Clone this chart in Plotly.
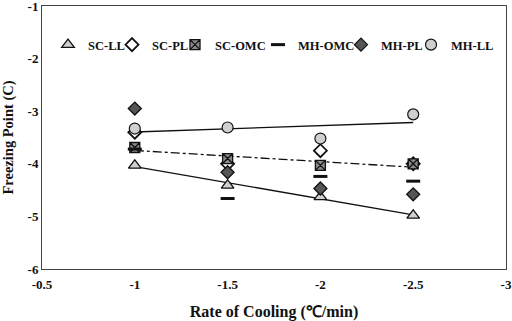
import numpy as np
import plotly.graph_objects as go

rates = [-1, -1.5, -2, -2.5]
sc_ll = [-4.03, -4.41, -4.63, -4.98]
sc_pl = [-3.40, -4.00, -3.75, -4.00]
sc_omc = [-3.69, -3.90, -4.03, -4.00]
mh_omc = [-3.72, -4.66, -4.24, -4.33]
mh_pl = [-2.95, -4.16, -4.47, -4.58]
mh_ll = [-3.33, -3.31, -3.52, -3.06]

x_ticks = [-0.5, -1, -1.5, -2, -2.5, -3]
y_ticks = [-1, -2, -3, -4, -5, -6]

FONT = "Liberation Serif"
INK = "#111111"

# name, values, symbol, size, outline width, fill colour, reference legend symbol x (px)
series = [
    ("SC-LL", sc_ll, "triangle-up", 11, 1.3, "#d0d0d0", 75),
    ("SC-PL", sc_pl, "diamond-open", 10, 1.8, INK, 139),
    ("SC-OMC", sc_omc, "square-x", 10, 1.3, "#8a8a8a", 202),
    ("MH-OMC", mh_omc, "line-ew", 10, 3, INK, 285),
    ("MH-PL", mh_pl, "diamond", 10, 1.3, "#555555", 368),
    ("MH-LL", mh_ll, "circle", 11, 1.2, "#cfcfcf", 438),
]

L, R, T, B = 42, 6, 6, 52
PW = 512 - L - R
PH = 321 - T - B

fig = go.Figure()

# linear trend lines
x_arr = np.array(rates, dtype=float)
for vals, dash in [(mh_ll, "solid"), (sc_omc, "dashdot"), (sc_ll, "solid")]:
    k, b = np.polyfit(x_arr, np.array(vals), 1)
    xs = np.array([rates[0], rates[-1]], dtype=float)
    fig.add_trace(go.Scatter(x=xs, y=k * xs + b, mode="lines",
                             line=dict(color=INK, width=1.3, dash=dash),
                             showlegend=False, hoverinfo="skip"))

legend_layouts = {}
for i, (name, vals, sym, size, lw, fill, sx) in enumerate(series):
    lg = "legend" if i == 0 else f"legend{i + 1}"
    fig.add_trace(go.Scatter(
        x=rates, y=vals, mode="markers", name=name, legend=lg,
        marker=dict(symbol=sym, size=size, color=fill,
                    line=dict(color=INK, width=lw)),
    ))
    # legend symbol sits ~20px after the legend's left edge
    legend_layouts[lg] = dict(
        x=(sx - 7 - 20 - L) / PW, y=1 - (45 - T) / PH,
        xanchor="left", yanchor="middle", orientation="h",
        bgcolor="rgba(0,0,0,0)", itemwidth=30, borderwidth=0,
        font=dict(family=FONT, size=12.5, color=INK, weight="bold"),
    )

axis_common = dict(showgrid=False, zeroline=False, showline=True, mirror=True,
                   linecolor="#444444", linewidth=1, ticks="", automargin=False,
                   ticklabeloverflow="allow",
                   tickfont=dict(family=FONT, size=13, color=INK, weight="bold"))

fig.update_layout(
    width=512, height=321,
    margin=dict(l=L, r=R, t=T, b=B),
    paper_bgcolor="white", plot_bgcolor="white",
    font=dict(family=FONT, size=13, color=INK, weight="bold"),
    xaxis=dict(range=[-0.5, -3], tickvals=x_ticks,
               ticktext=[f"{v:g}" for v in x_ticks],
               ticklabelstandoff=3,
               title=dict(text="Rate of Cooling (℃/min)", standoff=16,
                          font=dict(family=FONT, size=16, color=INK, weight="bold")),
               **axis_common),
    yaxis=dict(range=[-6, -1], tickvals=y_ticks,
               ticktext=[f"{v:g}" for v in y_ticks],
               title=dict(text="Freezing Point (C)", standoff=11,
                          font=dict(family=FONT, size=14.5, color=INK, weight="bold")),
               **axis_common),
    **legend_layouts,
)

fig.write_html("out.html",
               config={"displayModeBar": False},
               post_script="document.body.style.margin='0';document.body.style.padding='0';")
